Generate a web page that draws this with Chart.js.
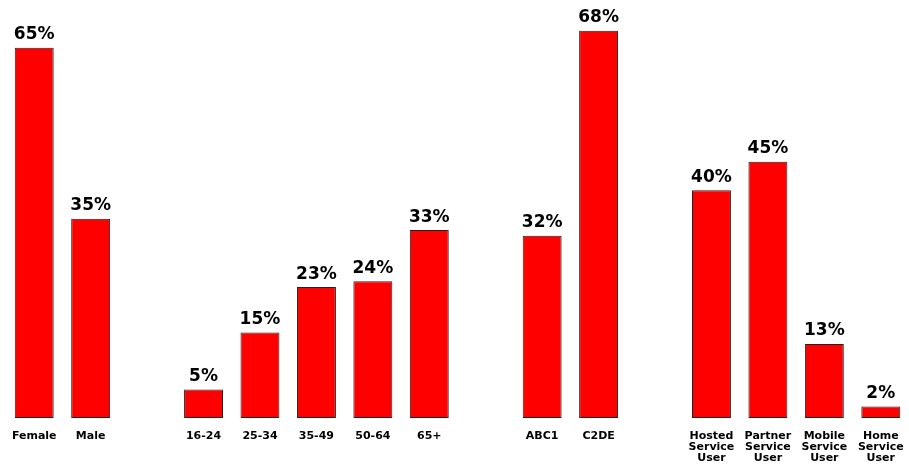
<!DOCTYPE html>
<html>
<head>
<meta charset="utf-8">
<script src="https://cdn.jsdelivr.net/npm/chart.js@4"></script>
<style>
  html, body { margin: 0; padding: 0; background: #fff; }
  #wrap { width: 909px; height: 466px; }
</style>
</head>
<body>
<div id="wrap"><canvas id="chart"></canvas></div>
<script>
// Profile groups (percent of respondents)
const genderLabels = ['Female', 'Male'];
const genderValues = [65, 35];

const ageLabels = ['16-24', '25-34', '35-49', '50-64', '65+'];
const ageValues = [5, 15, 23, 24, 33];

const classLabels = ['ABC1', 'C2DE'];
const classValues = [32, 68];

const serviceLabels = [
    ['Hosted', 'Service', 'User'],
    ['Partner', 'Service', 'User'],
    ['Mobile', 'Service', 'User'],
    ['Home', 'Service', 'User']
];
const serviceValues = [40, 45, 13, 2];

// Join the groups with an empty slot between each one
const groups = [
    [genderLabels, genderValues],
    [ageLabels, ageValues],
    [classLabels, classValues],
    [serviceLabels, serviceValues]
];
const labels = [];
const values = [];
groups.forEach(([l, v], i) => {
    if (i > 0) { labels.push(''); values.push(null); }
    labels.push(...l);
    values.push(...v);
});

const FONT = "'DejaVu Sans', Verdana, sans-serif";

// Draws the percentage above each bar
const valueLabels = {
    id: 'valueLabels',
    afterDatasetsDraw(chart) {
        const ctx = chart.ctx;
        const meta = chart.getDatasetMeta(0);
        ctx.save();
        ctx.font = 'bold 17px ' + FONT;
        ctx.fillStyle = '#000';
        ctx.textAlign = 'center';
        ctx.textBaseline = 'alphabetic';
        meta.data.forEach((bar, i) => {
            if (values[i] == null) return;
            ctx.fillText(values[i] + '%', bar.x, bar.y - 8.5);
        });
        ctx.restore();
    }
};

new Chart(document.getElementById('chart'), {
    type: 'bar',
    data: {
        labels: labels,
        datasets: [{
            data: values,
            backgroundColor: '#ff0000',
            borderColor: '#222222',
            borderWidth: 1,
            borderSkipped: false,
            barPercentage: 0.69,
            categoryPercentage: 1
        }]
    },
    options: {
        responsive: true,
        maintainAspectRatio: false,
        animation: false,
        layout: { autoPadding: false, padding: { left: 6, right: -2, top: 8, bottom: 0 } },
        plugins: {
            legend: { display: false },
            tooltip: { enabled: false }
        },
        scales: {
            x: {
                grid: { display: false },
                border: { display: false },
                afterFit(scale) { scale.height = 48; },
                ticks: {
                    color: '#000',
                    font: { family: FONT, weight: 'bold', size: 11, lineHeight: 1.0 },
                    maxRotation: 0,
                    autoSkip: false,
                    padding: 5
                }
            },
            y: {
                display: false,
                min: 0,
                max: 72
            }
        }
    },
    plugins: [valueLabels]
});
</script>
</body>
</html>
